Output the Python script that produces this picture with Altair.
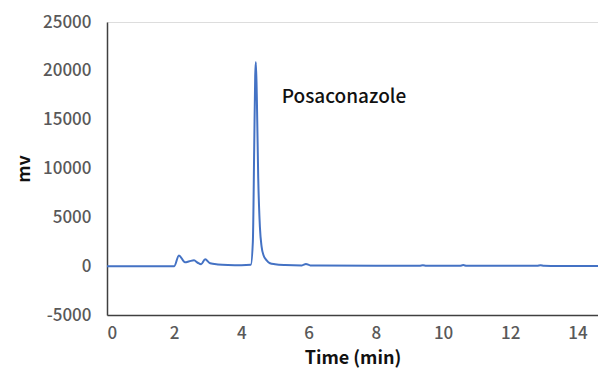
import altair as alt
import pandas as pd

time_min = [0, 2.0, 2.14, 2.32, 2.45, 2.59, 2.7, 2.8, 2.92, 3.07, 3.3, 3.6, 4.0, 4.28, 4.34, 4.38, 4.41, 4.43, 4.46, 4.5, 4.55, 4.6, 4.66, 4.75, 4.85, 5.0, 5.3, 5.8, 5.92, 6.05, 6.3, 8.0, 9.3, 9.4, 9.5, 10.5, 10.6, 10.7, 12.8, 12.9, 13.0, 14.85]
signal_mv = [0, 0, 1100, 400, 500, 600, 350, 200, 700, 300, 180, 120, 100, 150, 2500, 12000, 19500, 20900, 17000, 9000, 4000, 2000, 1100, 600, 300, 200, 120, 80, 220, 80, 60, 40, 40, 90, 40, 40, 110, 40, 30, 90, 30, 20]

label_text = ["Posaconazole"]
label_x = [5.2]
label_y = [17300]

x_ticks = [0, 2, 4, 6, 8, 10, 12, 14]
y_ticks = [-5000, 0, 5000, 10000, 15000, 20000, 25000]

df = pd.DataFrame({"t": time_min, "v": signal_mv})
lab = pd.DataFrame({"text": label_text, "x": label_x, "y": label_y})

x_scale = alt.Scale(domain=[0, 14.61], nice=False, zero=False)
y_scale = alt.Scale(domain=[-5000, 25000], nice=False)

label_font = "Noto Sans CJK JP"

line = alt.Chart(df).mark_line(color="#4472C4", strokeWidth=2, interpolate="monotone", clip=True).encode(
    x=alt.X("t:Q", scale=x_scale,
            axis=alt.Axis(title="Time (min)", values=x_ticks, grid=False, ticks=False,
                          labelExpr="toString(datum.value)",
                          domainColor="#404040", domainWidth=1.5, labelPadding=10,
                          labelFont=label_font, labelFontSize=17, labelColor="#595959",
                          labelFontWeight=500,
                          titleFont=label_font, titleFontSize=18, titleFontWeight="bold",
                          titleColor="#111111", titlePadding=8)),
    y=alt.Y("v:Q", scale=y_scale,
            axis=alt.Axis(title="mv", values=y_ticks, grid=False, ticks=False,
                          labelExpr="toString(datum.value)",
                          domainColor="#404040", domainWidth=1.5, labelPadding=16,
                          labelFont=label_font, labelFontSize=17, labelColor="#595959",
                          labelFontWeight=500,
                          titleFont=label_font, titleFontSize=18, titleFontWeight="bold",
                          titleColor="#111111", titlePadding=9)),
)

text = alt.Chart(lab).mark_text(align="left", baseline="middle", font=label_font,
                                fontSize=19, fontWeight=500, color="#111111").encode(
    x=alt.X("x:Q", scale=x_scale),
    y=alt.Y("y:Q", scale=y_scale),
    text="text:N",
)

chart = (line + text).properties(
    width=491, height=293,
    autosize=alt.AutoSizeParams(type="none"),
    padding={"left": 99, "top": 14, "right": 0, "bottom": 57},
).configure_view(stroke=None).configure(background="white")

chart.save("out.html", embed_options={"renderer": "svg", "actions": False})
